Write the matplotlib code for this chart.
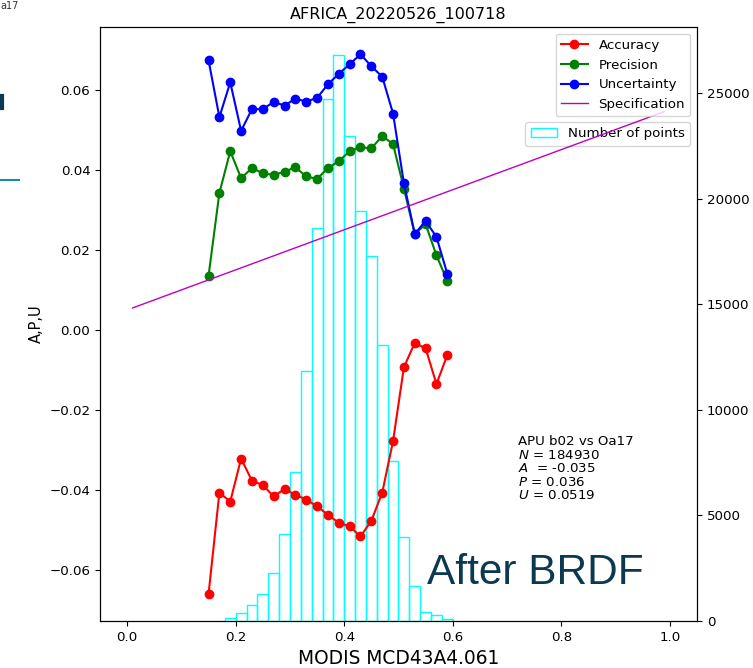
import matplotlib
matplotlib.use("Agg")
import matplotlib.pyplot as plt
from matplotlib.lines import Line2D
import numpy as np

# Reflectance bin centres used for the A, P, U statistics
x_centres = [0.15, 0.17, 0.19, 0.21, 0.23, 0.25, 0.27, 0.29, 0.31, 0.33, 0.35, 0.37,
             0.39, 0.41, 0.43, 0.45, 0.47, 0.49, 0.51, 0.53, 0.55, 0.57, 0.59]

accuracy = [-0.0659, -0.0406, -0.0428, -0.0321, -0.0376, -0.0387, -0.0415, -0.0397,
            -0.0411, -0.0423, -0.0440, -0.0461, -0.0481, -0.0490, -0.0515, -0.0476,
            -0.0406, -0.0277, -0.0093, -0.0032, -0.0046, -0.0135, -0.0062]

precision = [0.0135, 0.0342, 0.0446, 0.0379, 0.0404, 0.0391, 0.0387, 0.0395, 0.0406,
             0.0383, 0.0377, 0.0404, 0.0421, 0.0446, 0.0456, 0.0453, 0.0484, 0.0464,
             0.0353, 0.0239, 0.0264, 0.0186, 0.0122]

uncertainty = [0.0673, 0.0531, 0.0618, 0.0497, 0.0551, 0.0551, 0.0569, 0.0560, 0.0577,
               0.0570, 0.0579, 0.0613, 0.0639, 0.0663, 0.0688, 0.0658, 0.0632, 0.0540,
               0.0366, 0.0240, 0.0272, 0.0232, 0.0140]

# Specification line end points
spec_x = [0.01, 0.99]
spec_y = [0.0055, 0.0545]

# Histogram of the number of points per reflectance bin
hist_left = [0.18, 0.20, 0.22, 0.24, 0.26, 0.28, 0.30, 0.32, 0.34, 0.36, 0.38,
             0.40, 0.42, 0.44, 0.46, 0.48, 0.50, 0.52, 0.54, 0.56, 0.58]
hist_counts = [150, 393, 758, 1265, 2260, 4140, 7076, 11848, 18610, 24752, 26840,
               23000, 19415, 17315, 13080, 7583, 3965, 1675, 410, 300, 95]
bin_width = 0.02

title = "AFRICA_20220526_100718"
stats_text = ("APU b02 vs Oa17\n$N$ = 184930\n$A$  = -0.035\n"
              "$P$ = 0.036\n$U$ = 0.0519")

fig = plt.figure(figsize=(7.53, 6.68), dpi=100)
ax1 = fig.add_axes([0.1328, 0.0704, 0.7928, 0.8892])
ax2 = ax1.twinx()
ax1.set_zorder(ax2.get_zorder() + 1)
ax1.patch.set_visible(False)

ax2.bar(hist_left, hist_counts, width=bin_width, align="edge", fill=False,
        edgecolor="cyan", linewidth=1.0, label="Number of points")
ax2.set_ylim(0, 28150)
ax2.legend(loc="upper right", bbox_to_anchor=(1.0, 0.851), fontsize=9.6)

ax1.plot(x_centres, accuracy, "o-", color="red", label="Accuracy")
ax1.plot(x_centres, precision, "o-", color="green", label="Precision")
ax1.plot(x_centres, uncertainty, "o-", color="blue", label="Uncertainty")
ax1.plot(spec_x, spec_y, "-", color="m", linewidth=1.0, label="Specification")
ax1.legend(loc="upper right", fontsize=9.6)

ax1.set_xlim(-0.05, 1.05)
ax1.set_ylim(-0.0726, 0.0756)
ax1.set_yticks([-0.06, -0.04, -0.02, 0.00, 0.02, 0.04, 0.06])
ax1.set_xticks([0.0, 0.2, 0.4, 0.6, 0.8, 1.0])
ax1.tick_params(labelsize=9.6)
ax2.tick_params(labelsize=9.6)
ax1.set_title(title, fontsize=11.5)
ax1.set_xlabel("MODIS MCD43A4.061", fontsize=13.4)
ax1.set_ylabel("A,P,U", fontsize=10.5)

ax1.text(0.70, 0.20, stats_text, transform=ax1.transAxes, fontsize=9.6,
         va="bottom", ha="left", linespacing=1.05)

fig.text(0.5667, 0.1257, "After BRDF", fontsize=30.5, color="#0b3a50",
         family="Liberation Sans", ha="left", va="baseline")

# Fragments of neighbouring slide content at the left edge
fig.text(0.001, 0.998, "a17", fontsize=7, color="#333333", va="top", ha="left")
fig.add_artist(Line2D([0.0, 0.025], [0.7305, 0.7305], color="#1b8c99",
                      linewidth=1.5, transform=fig.transFigure))
fig.add_artist(Line2D([0.002, 0.002], [0.838, 0.857], color="#0b3a50",
                      linewidth=3, transform=fig.transFigure))

fig.savefig("out.png", dpi=100)
